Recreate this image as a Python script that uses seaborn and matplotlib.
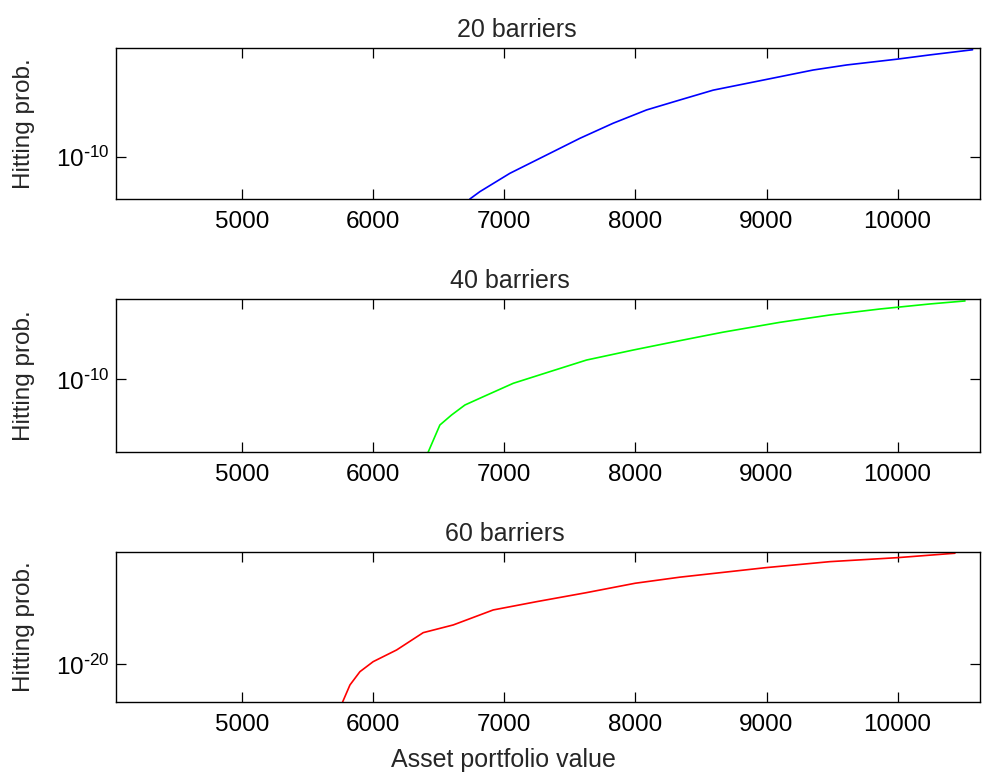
import numpy as np
import matplotlib
matplotlib.use('Agg')
import matplotlib.pyplot as plt
import seaborn as sns
from matplotlib.ticker import NullLocator

# Hitting probability vs asset portfolio value (log10 of prob.)
x20 = [6737, 6813, 7042, 7322, 7576, 7830, 8085, 8339, 8593, 8975, 9356, 9611, 9992, 10246, 10572]
logp20 = [-13.5, -12.89, -11.36, -9.83, -8.44, -7.18, -6.07, -5.24, -4.42, -3.58, -2.74, -2.32, -1.84, -1.48, -1.05]

x40 = [6419, 6508, 6597, 6699, 6839, 7068, 7347, 7627, 7983, 8238, 8492, 8669, 9102, 9484, 9865, 10247, 10514]
logp40 = [-18.5, -15.34, -14.17, -13.0, -12.03, -10.46, -9.10, -7.74, -6.57, -5.78, -5.01, -4.48, -3.33, -2.47, -1.77, -1.18, -0.83]

x60 = [5766, 5822, 5898, 5999, 6178, 6381, 6610, 6915, 7246, 7627, 7998, 8339, 8993, 9484, 10000, 10437]
logp60 = [-26.5, -23.56, -21.27, -19.54, -17.52, -14.53, -13.2, -10.61, -9.18, -7.62, -6.0, -4.95, -3.31, -2.27, -1.58, -0.82]

titles = ['20 barriers', '40 barriers', '60 barriers']
ytick_vals = [1e-10, 1e-10, 1e-20]
ytick_labels = [r'$10^{\text{-}10}$', r'$10^{\text{-}10}$', r'$10^{\text{-}20}$']
xticks = [5000, 6000, 7000, 8000, 9000, 10000]

sns.set_style('ticks')
plt.rcParams['font.family'] = ['Liberation Sans', 'DejaVu Sans']
plt.rcParams['mathtext.default'] = 'regular'

fig = plt.figure(figsize=(9.82, 7.76), dpi=100)

# axes boxes [left, bottom, width, height] in figure fractions
boxes = [[0.1181, 0.7436, 0.8798, 0.1946],
         [0.1181, 0.4175, 0.8798, 0.1972],
         [0.1181, 0.0954, 0.8798, 0.1933]]
ylims = [(-13.5, -0.9), (-18.5, -0.6), (-26.5, -0.6)]
title_x = [0.464, 0.456, 0.450]
series = [(x20, logp20, '#0000ff'), (x40, logp40, '#00ff00'), (x60, logp60, '#ff0000')]

for i, (xs, lp, col) in enumerate(series):
    ax = fig.add_axes(boxes[i])
    ax.set_yscale('log')
    sns.lineplot(x=xs, y=[10.0 ** v for v in lp], ax=ax, color=col, linewidth=1.2, estimator=None)
    ax.set_xlim(4037, 10628)
    ax.set_ylim(10.0 ** ylims[i][0], 10.0 ** ylims[i][1])
    ax.set_xticks(xticks)
    ax.set_xticklabels([str(t) for t in xticks])
    ax.set_yticks([ytick_vals[i]])
    ax.set_yticklabels([ytick_labels[i]])
    ax.yaxis.set_minor_locator(NullLocator())
    ax.tick_params(direction='in', top=True, right=True, length=7, width=0.9,
                   labelsize=17.5, colors='black')
    ax.tick_params(axis='x', pad=8.5)
    ax.tick_params(axis='y', pad=5)
    for s in ax.spines.values():
        s.set_linewidth(1.0)
        s.set_color('black')
    ax.set_title(titles[i], fontsize=18, x=title_x[i], pad=8)
    ax.set_ylabel('Hitting prob.', fontsize=17.5)
    ax.yaxis.set_label_coords(-0.094, 0.5)
    if i == 2:
        ax.set_xlabel('Asset portfolio value', fontsize=18)
        ax.xaxis.set_label_coords(0.449, -0.31)

plt.savefig('out.png', dpi=100)
